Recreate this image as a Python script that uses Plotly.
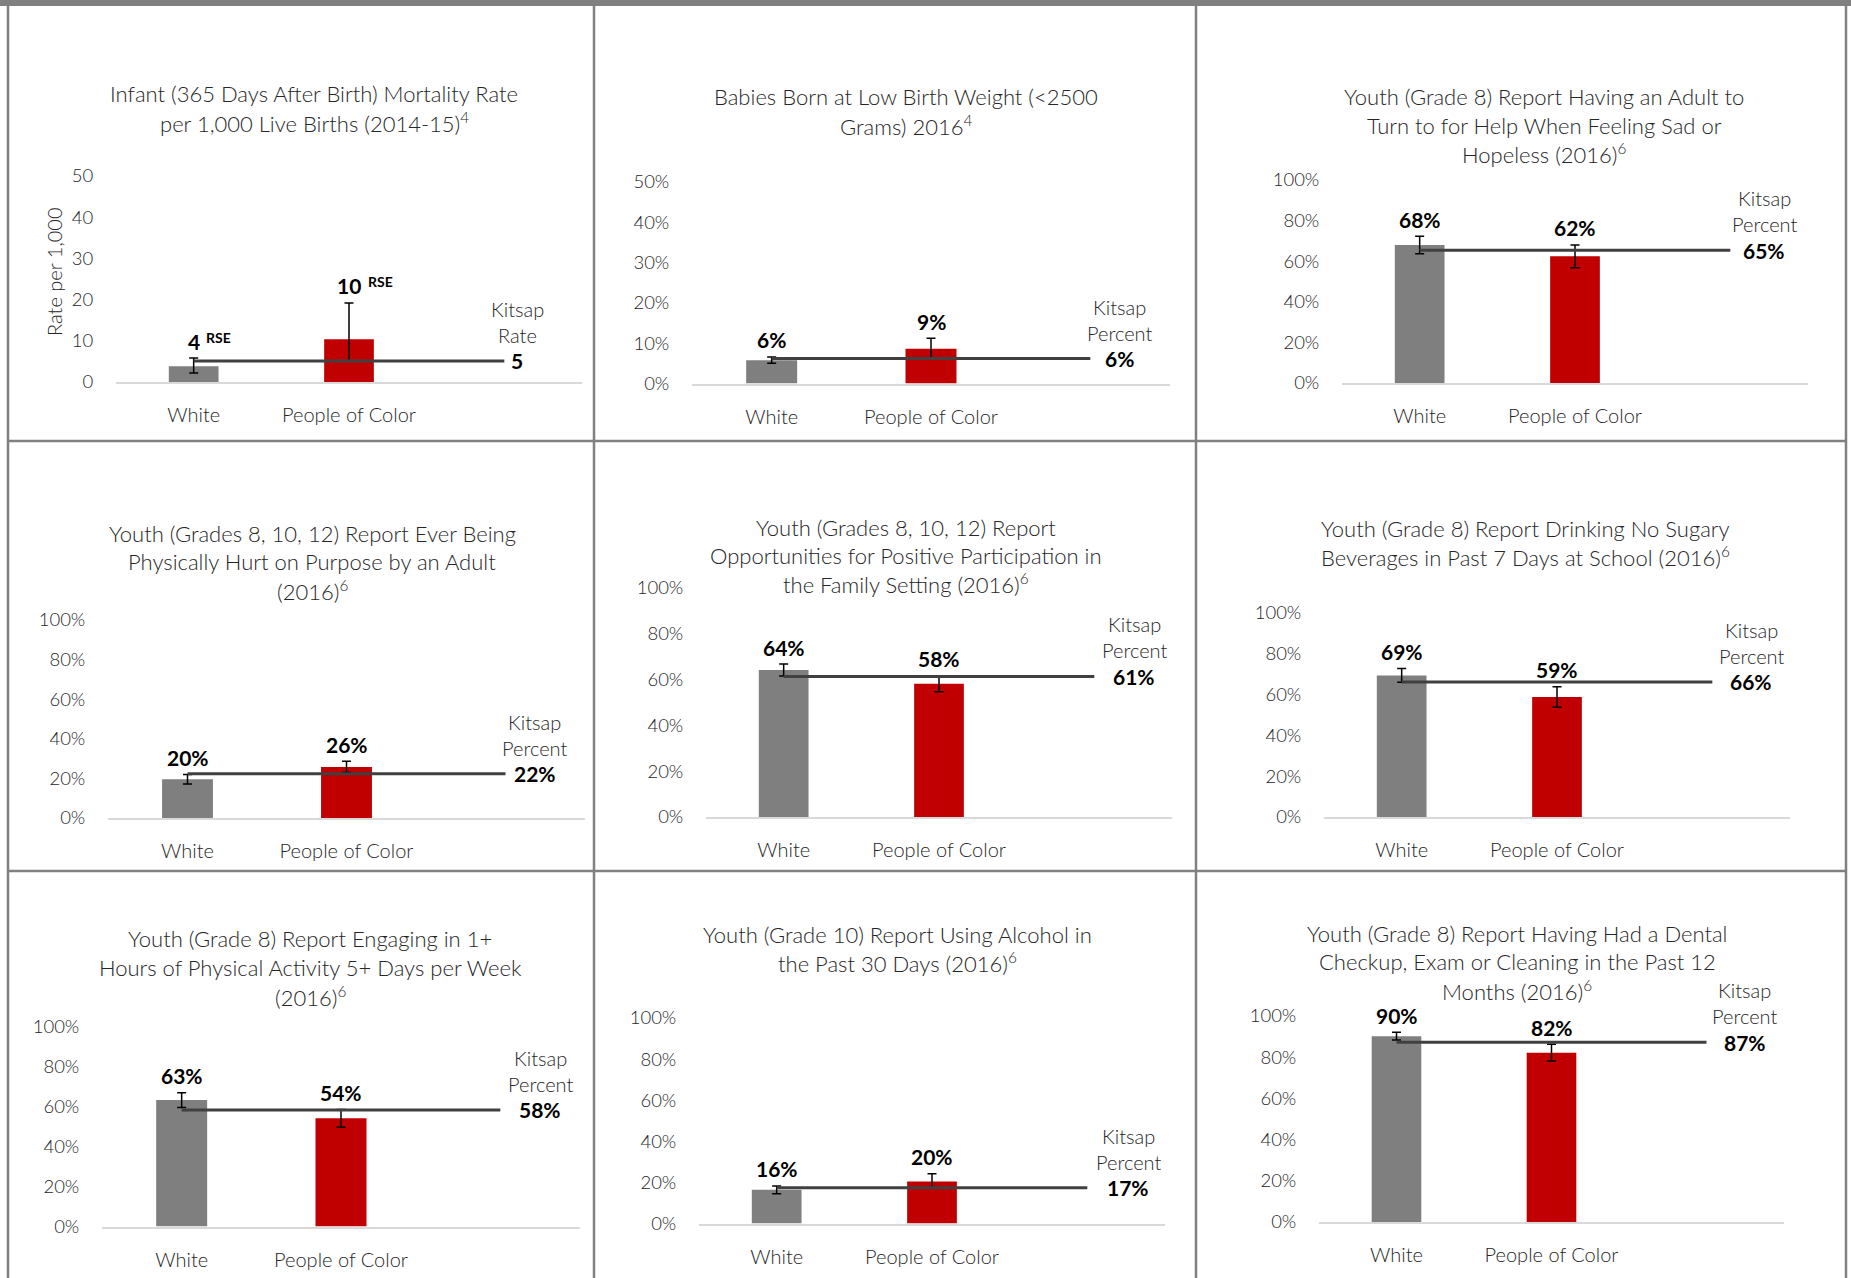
import plotly.graph_objects as go

W, H = 1851, 1278

# ---------------- data ----------------
CATEGORIES = ["White", "People of Color"]

TITLES = [
    ["Infant (365 Days After Birth) Mortality Rate", "per 1,000 Live Births (2014-15)<sup>4</sup>"],
    ["Babies Born at Low Birth Weight (&lt;2500", "Grams) 2016<sup>4</sup>"],
    ["Youth (Grade 8) Report Having an Adult to", "Turn to for Help When Feeling Sad or", "Hopeless (2016)<sup>6</sup>"],
    ["Youth (Grades 8, 10, 12) Report Ever Being", "Physically Hurt on Purpose by an Adult", "(2016)<sup>6</sup>"],
    ["Youth (Grades 8, 10, 12) Report", "Opportunities for Positive Participation in", "the Family Setting (2016)<sup>6</sup>"],
    ["Youth (Grade 8) Report Drinking No Sugary", "Beverages in Past 7 Days at School (2016)<sup>6</sup>"],
    ["Youth (Grade 8) Report Engaging in 1+", "Hours of Physical Activity 5+ Days per Week", "(2016)<sup>6</sup>"],
    ["Youth (Grade 10) Report Using Alcohol in", "the Past 30 Days (2016)<sup>6</sup>"],
    ["Youth (Grade 8) Report Having Had a Dental", "Checkup, Exam or Cleaning in the Past 12", "Months (2016)<sup>6</sup>"],
]

WHITE = [3.8, 5.8, 68.0, 19.6, 64.2, 69.4, 63.4, 16.4, 90.2]
WHITE_ERR_PLUS = [2.0, 0.8, 4.3, 2.4, 2.6, 3.4, 3.7, 1.9, 1.9]
WHITE_ERR_MINUS = [1.6, 0.8, 4.3, 2.4, 2.6, 3.4, 3.7, 1.9, 1.9]
POC = [10.4, 8.6, 62.4, 25.8, 58.2, 58.8, 54.2, 20.4, 82.2]
POC_ERR_PLUS = [8.8, 2.6, 5.6, 2.8, 3.5, 5.0, 4.5, 3.8, 4.1]
POC_ERR_MINUS = [5.3, 2.2, 5.6, 2.8, 3.5, 5.0, 4.5, 3.0, 4.1]
KITSAP = [5.1, 6.2, 65.4, 22.4, 61.4, 66.2, 58.4, 17.4, 87.3]
KITSAP_NAME = ["Kitsap Rate"] + ["Kitsap Percent"] * 8
RSE_FLAG = [True, False, False, False, False, False, False, False, False]
Y_MAX = [50, 50, 100, 100, 100, 100, 100, 100, 100]
Y_STEP = [10, 10, 20, 20, 20, 20, 20, 20, 20]
Y_SUFFIX = ["", "%", "%", "%", "%", "%", "%", "%", "%"]
Y_TITLE = ["Rate per 1,000", None, None, None, None, None, None, None, None]

# ---------------- layout geometry (pixels) ----------------
# x0, x1, baseline y, top y, title centre x, first title line y, kitsap label dx
PANEL_BOX = [
    (116, 582, 382, 176, 314, 94, 13),
    (692, 1170, 383.5, 182, 906, 97, 29),
    (1342, 1808, 383, 180, 1544, 97, 34),
    (108, 585, 818, 620, 312, 533, 29),
    (706, 1172, 817, 588, 906, 527, 40),
    (1324, 1790, 817, 613, 1525, 528, 39),
    (102, 580, 1226.5, 1027, 310, 939, 40),
    (699, 1165, 1223.5, 1018, 897, 934, 41),
    (1319, 1784, 1222, 1016, 1517, 933, 38),
]

FONT = "Lato, Calibri, Carlito, sans-serif"
TXT = "#262626"
GRAY_BAR = "#7f7f7f"
RED_BAR = "#c00000"
LINE_COL = "#404040"
BORDER = "#808080"


def px(x):
    return x / W


def py(y):
    return 1 - y / H


fig = go.Figure()
annotations = []
shapes = []

for i in range(9):
    x0, x1, yb, yt, tcx, ty, kdx = PANEL_BOX[i]
    sfx = "" if i == 0 else str(i + 1)
    xa, ya = "x" + sfx, "y" + sfx

    fig.add_trace(go.Bar(
        x=[0], y=[WHITE[i]], width=0.32, marker_color=GRAY_BAR, marker_line_width=0,
        error_y=dict(type="data", symmetric=False, array=[WHITE_ERR_PLUS[i]],
                     arrayminus=[WHITE_ERR_MINUS[i]], color="#000000", thickness=1.5, width=4.5),
        xaxis=xa, yaxis=ya, showlegend=False, hoverinfo="skip"))
    fig.add_trace(go.Bar(
        x=[1], y=[POC[i]], width=0.32, marker_color=RED_BAR, marker_line_width=0,
        error_y=dict(type="data", symmetric=False, array=[POC_ERR_PLUS[i]],
                     arrayminus=[POC_ERR_MINUS[i]], color="#000000", thickness=1.5, width=4.5),
        xaxis=xa, yaxis=ya, showlegend=False, hoverinfo="skip"))
    fig.add_trace(go.Scatter(
        x=[0, 1, 2], y=[KITSAP[i]] * 3, mode="lines",
        line=dict(color=LINE_COL, width=3), xaxis=xa, yaxis=ya,
        showlegend=False, hoverinfo="skip"))

    ticks = list(range(0, Y_MAX[i] + 1, Y_STEP[i]))
    fig.layout["xaxis" + sfx] = dict(
        domain=[px(x0), px(x1)], anchor=ya, range=[-0.5, 2.5],
        tickvals=[0, 1], ticktext=CATEGORIES, showgrid=False, zeroline=False,
        showline=True, linecolor="#d9d9d9", linewidth=2,
        ticks="outside", ticklen=14, tickcolor="rgba(0,0,0,0)",
        tickfont=dict(family=FONT, size=20, color=TXT, weight=300), fixedrange=True,
        automargin=False)
    fig.layout["yaxis" + sfx] = dict(
        domain=[py(yb), py(yt)], anchor=xa, range=[0, Y_MAX[i]],
        tickvals=ticks, ticktext=[f"{t}{Y_SUFFIX[i]}" for t in ticks],
        showgrid=False, zeroline=False, showline=False,
        ticks="outside", ticklen=18, tickcolor="rgba(0,0,0,0)",
        tickfont=dict(family=FONT, size=18.5, color=TXT, weight=300), fixedrange=True,
        automargin=False)

    # title lines
    for k, line in enumerate(TITLES[i]):
        annotations.append(dict(
            x=px(tcx), y=py(ty + k * 28.5), xref="paper", yref="paper",
            text=line, showarrow=False, xanchor="center", yanchor="middle",
            font=dict(family=FONT, size=22, color=TXT, weight=300)))

    # value labels
    for xpos, val, ep in ((0, WHITE[i], WHITE_ERR_PLUS[i]), (1, POC[i], POC_ERR_PLUS[i])):
        lab = f"{round(val)}{Y_SUFFIX[i]}"
        annotations.append(dict(
            x=xpos, y=val + ep, xref=xa, yref=ya, text=f"<b>{lab}</b>",
            showarrow=False, xanchor="center", yanchor="middle", yshift=17,
            font=dict(family=FONT, size=21, color="#000000")))
        if RSE_FLAG[i]:
            annotations.append(dict(
                x=xpos, y=val + ep, xref=xa, yref=ya, text="<b>RSE</b>",
                showarrow=False, xanchor="left", yanchor="middle",
                xshift=3 + 7 * len(lab), yshift=21,
                font=dict(family=FONT, size=14, color="#000000")))

    # Kitsap label
    name_lines = KITSAP_NAME[i].split(" ")
    for k, nl in enumerate(name_lines):
        annotations.append(dict(
            x=2, y=KITSAP[i], xref=xa, yref=ya, text=nl, showarrow=False,
            xanchor="center", yanchor="middle", xshift=kdx,
            yshift=26 * (len(name_lines) - k),
            font=dict(family=FONT, size=20, color=TXT, weight=300)))
    annotations.append(dict(
        x=2, y=KITSAP[i], xref=xa, yref=ya,
        text=f"<b>{round(KITSAP[i])}{Y_SUFFIX[i]}</b>", showarrow=False,
        xanchor="center", yanchor="middle", xshift=kdx,
        font=dict(family=FONT, size=21, color="#000000")))

    if Y_TITLE[i]:
        annotations.append(dict(
            x=px(54), y=py(272), xref="paper", yref="paper", text=Y_TITLE[i],
            showarrow=False, textangle=-90, xanchor="center", yanchor="middle",
            font=dict(family=FONT, size=20, color=TXT, weight=300)))

# panel borders
shapes.append(dict(type="rect", xref="paper", yref="paper", x0=0, x1=1, y0=py(6), y1=1,
                   fillcolor=BORDER, line=dict(width=0)))
for xv in (8, 594, 1196, 1846):
    shapes.append(dict(type="line", xref="paper", yref="paper", x0=px(xv), x1=px(xv),
                       y0=0, y1=1, line=dict(color=BORDER, width=2.5)))
for yv in (441, 871):
    shapes.append(dict(type="line", xref="paper", yref="paper", x0=px(8), x1=px(1846),
                       y0=py(yv), y1=py(yv), line=dict(color=BORDER, width=2.5)))

fig.update_layout(
    width=W, height=H, margin=dict(l=0, r=0, t=0, b=0, pad=0, autoexpand=False),
    paper_bgcolor="white", plot_bgcolor="rgba(0,0,0,0)",
    annotations=annotations, shapes=shapes, barmode="overlay",
    font=dict(family=FONT, color=TXT))

POST = ("document.body.style.margin='0';document.body.style.overflow='hidden';"
        "var gd=document.getElementById('{plot_id}');"
        "gd.style.position='absolute';gd.style.top='0px';gd.style.left='0px';")

fig.write_html("out.html", config={"displayModeBar": False}, post_script=POST)
